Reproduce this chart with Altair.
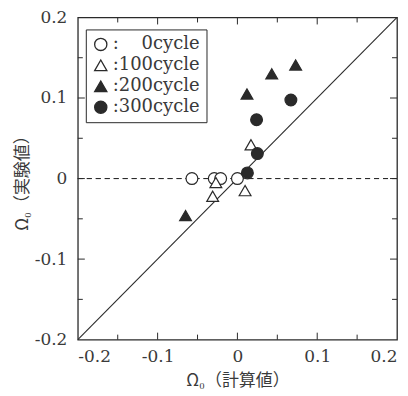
import altair as alt
import pandas as pd

# ---- data ----
series_names = ["0cycle", "100cycle", "200cycle", "300cycle"]

x_0cycle = [-0.057, -0.029, -0.021, 0.0]
y_0cycle = [0.0, 0.0, 0.0, 0.0]

x_100cycle = [-0.027, -0.031, 0.0096, 0.017]
y_100cycle = [-0.005, -0.022, -0.015, 0.042]

x_200cycle = [-0.065, 0.012, 0.043, 0.073]
y_200cycle = [-0.046, 0.105, 0.130, 0.141]

x_300cycle = [0.067, 0.024, 0.025, 0.0125]
y_300cycle = [0.0975, 0.073, 0.031, 0.007]

diag_vals = [-0.2, 0.2]
tick_major = [-0.1, 0.0, 0.1]
tick_minor = [-0.15, -0.05, 0.05, 0.15]
axis_vals = [-0.2, -0.1, 0.0, 0.1, 0.2]

rows = []
for name, xs, ys in [
    ("0cycle", x_0cycle, y_0cycle),
    ("100cycle", x_100cycle, y_100cycle),
    ("200cycle", x_200cycle, y_200cycle),
    ("300cycle", x_300cycle, y_300cycle),
]:
    for xv, yv in zip(xs, ys):
        rows.append({"calc": xv, "exp": yv, "series": name})
df = pd.DataFrame(rows)
diag = pd.DataFrame({"a": diag_vals, "b": diag_vals})
major = pd.DataFrame({"t": tick_major})
minor = pd.DataFrame({"t": tick_minor})

W, H = 320, 323
DOM = [-0.2, 0.2]
INK = "#2a2a2a"
TXT = "#3a3a3a"

xscale = alt.Scale(domain=DOM, nice=False, zero=False)
yscale = alt.Scale(domain=DOM, nice=False, zero=False)

tick_label = "replace(datum.label, '\u2212', '-')"

xaxis = alt.Axis(values=axis_vals, title="Ω₀（計算値）", format="~g", labelExpr=tick_label,
                 labelPadding=9, titlePadding=8, ticks=False, domain=False, grid=False)
yaxis = alt.Axis(values=axis_vals, title="Ω₀（実験値）", format="~g", labelExpr=tick_label,
                 labelPadding=11, titlePadding=3, ticks=False, domain=False, grid=False)

label_expr = ("datum.label == '0cycle' ? ':\u2007\u20070cycle' : ':' + datum.label")

legend = alt.Legend(title=None, orient="none", legendX=8, legendY=12, labelExpr=label_expr)

points = alt.Chart(df).mark_point(size=140, strokeWidth=1.2, opacity=1).encode(
    x=alt.X("calc:Q", scale=xscale, axis=xaxis),
    y=alt.Y("exp:Q", scale=yscale, axis=yaxis),
    shape=alt.Shape("series:N", scale=alt.Scale(domain=series_names,
                    range=["circle", "triangle-up", "triangle-up", "circle"]), legend=legend),
    fill=alt.Fill("series:N", scale=alt.Scale(domain=series_names,
                  range=["white", "white", INK, INK]), legend=legend),
    stroke=alt.Stroke("series:N", scale=alt.Scale(domain=series_names,
                      range=[INK, INK, INK, INK]), legend=legend),
)

diag_line = alt.Chart(diag).mark_line(color=INK, strokeWidth=1.1).encode(
    x=alt.X("a:Q", scale=xscale), y=alt.Y("b:Q", scale=yscale))

zero_rule = alt.Chart(diag).mark_rule(color=INK, strokeWidth=1, strokeDash=[5, 4]).encode(
    y=alt.datum(0, scale=yscale))

def ticks(data, L):
    return [
        alt.Chart(data).mark_rule(color=INK, strokeWidth=1).encode(
            x=alt.X("t:Q", scale=xscale), y=alt.value(H), y2=alt.value(H - L)),
        alt.Chart(data).mark_rule(color=INK, strokeWidth=1).encode(
            x=alt.X("t:Q", scale=xscale), y=alt.value(0), y2=alt.value(L)),
        alt.Chart(data).mark_rule(color=INK, strokeWidth=1).encode(
            y=alt.Y("t:Q", scale=yscale), x=alt.value(0), x2=alt.value(L)),
        alt.Chart(data).mark_rule(color=INK, strokeWidth=1).encode(
            y=alt.Y("t:Q", scale=yscale), x=alt.value(W), x2=alt.value(W - L)),
    ]

layers = [zero_rule, diag_line] + ticks(major, 7) + ticks(minor, 5) + [points]

chart = alt.layer(*layers).properties(
    width=W, height=H, background="white",
    padding={"left": 5, "top": 0, "right": 0, "bottom": 0},
).configure_view(
    stroke=INK, strokeWidth=1.3,
).configure_axis(
    labelFont="DejaVu Serif", labelFontSize=17, labelColor=TXT,
    titleFont="Noto Sans CJK JP", titleFontSize=17, titleColor=TXT, titleFontWeight="normal",
).configure_legend(
    strokeColor=INK, fillColor="white", padding=6, rowPadding=3,
    labelFont="DejaVu Serif", labelFontSize=18, labelColor=TXT, labelOffset=3,
    symbolSize=150, symbolStrokeWidth=1.3, symbolStrokeColor=INK,
)

chart.save("out.html", embed_options={"renderer": "svg", "actions": False})
